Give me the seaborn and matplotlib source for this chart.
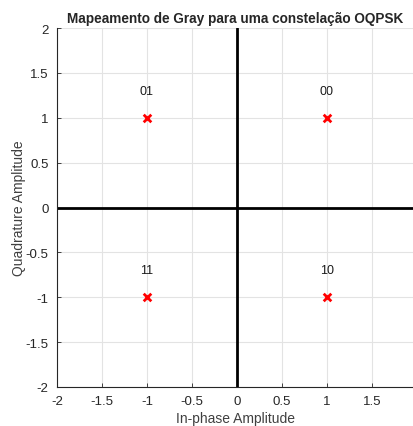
import matplotlib
matplotlib.use("Agg")
import matplotlib.pyplot as plt
import seaborn as sns
import pandas as pd

sns.set_theme(style="white")
plt.rcParams['font.family'] = ['Liberation Sans', 'DejaVu Sans']

in_phase = [1, -1, -1, 1]
quadrature = [1, 1, -1, -1]
labels = ["00", "01", "11", "10"]
ticks = [-2, -1.5, -1, -0.5, 0, 0.5, 1, 1.5, 2]
tick_labels = ["-2", "-1.5", "-1", "-0.5", "0", "0.5", "1", "1.5", "2"]

df = pd.DataFrame({"I": in_phase, "Q": quadrature, "label": labels})

fig = plt.figure(figsize=(4.13, 4.27), dpi=100)
ax = fig.add_axes([57/413, 1-388/427, (413-57)/413, (388-29)/427])

ax.grid(True, color="#e3e3e3", linewidth=0.8)
ax.set_axisbelow(True)
ax.axhline(0, color="black", linewidth=2, zorder=2)
ax.axvline(0, color="black", linewidth=2, zorder=2)

sns.scatterplot(data=df, x="I", y="Q", marker="x", color="red", s=30,
                linewidth=2, ax=ax, zorder=3)
for _, r in df.iterrows():
    ax.text(r["I"], r["Q"] + 0.3, r["label"], ha="center", va="center",
            fontsize=9, color="#1a1a1a")

ax.set_xlim(-2, 1.956)
ax.set_ylim(-2, 2)
ax.set_xticks(ticks[:-1])
ax.set_xticklabels(tick_labels[:-1])
ax.set_yticks(ticks)
ax.set_yticklabels(tick_labels)
ax.tick_params(direction="in", length=3, width=0.6, colors="#262626",
               labelsize=9.5, labelcolor="#262626", pad=6, left=True, bottom=True)
for s in ["top", "right"]:
    ax.spines[s].set_visible(False)
for s in ["left", "bottom"]:
    ax.spines[s].set_color("#262626")
    ax.spines[s].set_linewidth(0.8)

ax.set_xlabel("In-phase Amplitude", fontsize=10, color="#404040", labelpad=3)
ax.set_ylabel("Quadrature Amplitude", fontsize=10, color="#404040", labelpad=0)
ax.set_title("Mapeamento de Gray para uma constelação OQPSK", fontsize=9.8,
             fontweight="bold", pad=4)

fig.savefig("out.png", dpi=100)
